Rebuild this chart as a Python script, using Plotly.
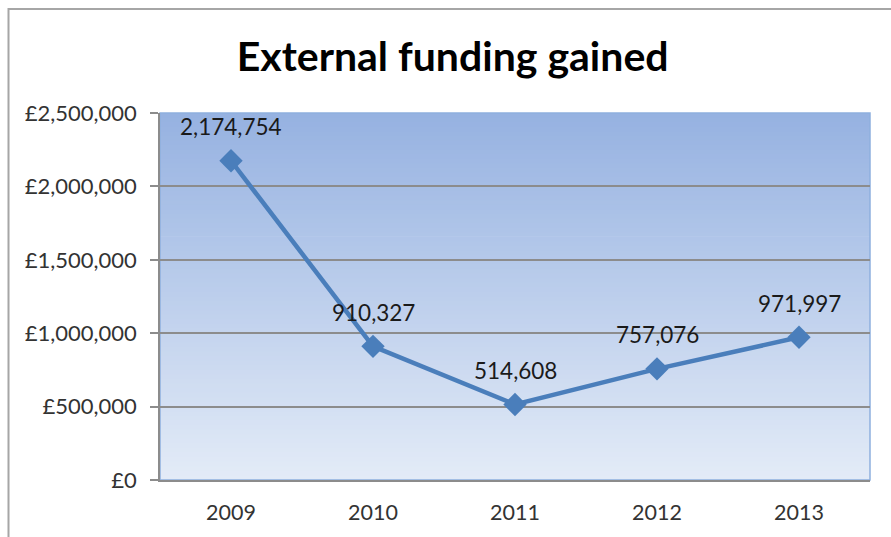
import plotly.graph_objects as go

years = ["2009", "2010", "2011", "2012", "2013"]
funding = [2174754, 910327, 514608, 757076, 971997]
tick_vals = [0, 500000, 1000000, 1500000, 2000000, 2500000]
tick_text = ["£0", "£500,000", "£1,000,000", "£1,500,000", "£2,000,000", "£2,500,000"]
title_text = "External funding gained"

FONT = "Lato, Calibri, Carlito, sans-serif"
LINE_BLUE = "#4A7EBB"

xpos = list(range(len(years)))

fig = go.Figure()
fig.add_trace(go.Scatter(
    x=xpos, y=funding, mode="lines+markers",
    line=dict(color=LINE_BLUE, width=4.5),
    marker=dict(symbol="diamond", size=18, color=LINE_BLUE),
    hoverinfo="skip", showlegend=False,
))

for x, v in zip(xpos, funding):
    fig.add_annotation(x=x, y=v, text=f"{v:,}", showarrow=False,
                       yshift=34, font=dict(family=FONT, size=22.5, color="#1a1a1a"))

# gradient plot background
top = (0x96, 0xB2, 0xE1)
bot = (0xE3, 0xEB, 0xF7)
N = 80
shapes = []
for i in range(N):
    t = i / (N - 1)
    c = tuple(int(round(bot[k] + (top[k] - bot[k]) * t)) for k in range(3))
    shapes.append(dict(type="rect", xref="x domain", yref="y domain",
                       x0=0, x1=1, y0=i / N, y1=min(1, (i + 1) / N + 0.002),
                       fillcolor="rgb(%d,%d,%d)" % c, line=dict(width=0),
                       layer="below"))
# plot area border
shapes.append(dict(type="rect", xref="x domain", yref="y domain", x0=0, x1=1, y0=0, y1=1,
                   line=dict(color="#8EB0DE", width=1.5), layer="below"))
# outer chart border
shapes.append(dict(type="rect", xref="paper", yref="paper",
                   x0=(8.5 - 160) / 710, x1=(905 - 160) / 710,
                   y0=(480 - 550) / 367.3, y1=(480 - 8.5) / 367.3,
                   line=dict(color="#A6A6A6", width=2), fillcolor="rgba(0,0,0,0)"))

fig.update_layout(
    width=891, height=537,
    margin=dict(l=160, r=21, t=113, b=57),
    paper_bgcolor="white", plot_bgcolor="white",
    shapes=shapes,
    title=dict(text=f"<b>{title_text}</b>", x=0.508, xanchor="center",
               y=1 - 57 / 537, yanchor="middle",
               font=dict(family=FONT, size=41, color="black")),
    xaxis=dict(range=[-0.5, len(years) - 0.5], tickvals=xpos, ticktext=years,
               showgrid=False, showline=True, linecolor="#8C8C8C", linewidth=1.5,
               ticks="", tickfont=dict(family=FONT, size=21.5, color="#333333"), ticklabelstandoff=12,
               zeroline=False, fixedrange=True),
    yaxis=dict(range=[0, 2500000], tickvals=tick_vals, ticktext=tick_text,
               showgrid=True, gridcolor="#8C8C8C", gridwidth=1.5,
               showline=True, linecolor="#8C8C8C", linewidth=1.5,
               ticks="outside", ticklen=8, tickcolor="#8C8C8C", tickwidth=1.5,
               tickfont=dict(family=FONT, size=22, color="#333333"), ticklabelstandoff=9,
               zeroline=False, fixedrange=True),
)

fig.write_html("out.html")
